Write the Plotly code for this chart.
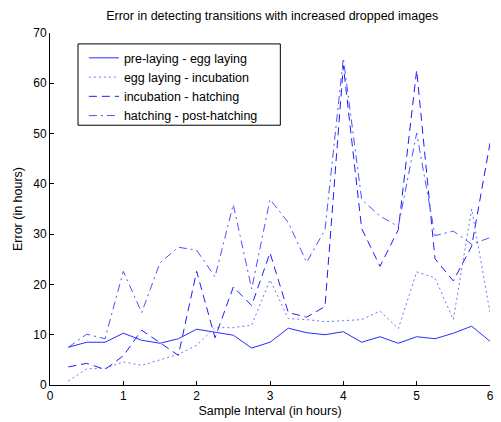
import plotly.graph_objects as go

x_hours = [0.25, 0.5, 0.75, 1.0, 1.25, 1.5, 1.75, 2.0, 2.25, 2.5, 2.75, 3.0,
           3.25, 3.5, 3.75, 4.0, 4.25, 4.5, 4.75, 5.0, 5.25, 5.5, 5.75, 6.0]

pre_laying = [7.5, 8.5, 8.5, 10.3, 8.9, 8.3, 9.2, 11.1, 10.5, 9.9, 7.35, 8.5,
              11.3, 10.4, 10.0, 10.6, 8.5, 9.6, 8.3, 9.6, 9.2, 10.3, 11.7, 8.7]
egg_laying = [0.8, 3.2, 3.3, 4.6, 3.9, 5.0, 6.1, 7.9, 11.4, 11.4, 11.9, 20.9,
              13.2, 13.0, 12.6, 12.8, 13.0, 14.7, 11.2, 22.5, 21.3, 13.0, 35.0, 14.4]
incubation = [3.6, 4.3, 3.1, 5.8, 10.9, 8.4, 5.9, 22.6, 9.4, 19.5, 15.8, 26.3,
              14.4, 13.5, 15.6, 63.5, 31.1, 23.6, 30.9, 62.6, 25.1, 20.7, 27.6, 48.1]
hatching = [7.5, 10.1, 9.2, 22.6, 14.4, 24.3, 27.4, 26.8, 21.5, 35.9, 19.1, 36.9,
            32.3, 24.4, 30.9, 65.0, 36.9, 33.6, 31.5, 50.1, 29.7, 30.6, 28.0, 29.3]

names = ["pre-laying - egg laying", "egg laying - incubation",
         "incubation - hatching", "hatching - post-hatching"]
series = [pre_laying, egg_laying, incubation, hatching]
colors = ["#2b2bff", "#7070ff", "#1c1cff", "#5050ff"]
dashes = ["solid", "2px,3px", "8px,5px", "8px,4px,2px,4px"]

fig = go.Figure()
for n, s, c, d in zip(names, series, colors, dashes):
    fig.add_trace(go.Scatter(x=x_hours, y=s, mode="lines", name=n,
                             line=dict(color=c, width=1, dash=d)))

font = "Liberation Sans, Arial, sans-serif"
axis_common = dict(showline=True, linecolor="black", linewidth=1, mirror=False,
                   ticks="inside", ticklen=4, tickcolor="black", showgrid=False,
                   zeroline=False, tickfont=dict(family=font, size=12, color="black"))
fig.update_layout(
    width=501, height=422,
    margin=dict(l=50, r=7, t=33, b=36),
    paper_bgcolor="white", plot_bgcolor="white",
    title=dict(text="Error in detecting transitions with increased dropped images",
               x=(50 + 494.5) / 2 / 501, xanchor="center", y=0.962, yanchor="middle",
               font=dict(family=font, size=12.5, color="black")),
    xaxis=dict(range=[0, 6], tickvals=[0, 1, 2, 3, 4, 5, 6],
               title=dict(text="Sample Interval (in hours)", standoff=3,
                          font=dict(family=font, size=12.5, color="black")),
               **axis_common),
    yaxis=dict(range=[0, 70], tickvals=[0, 10, 20, 30, 40, 50, 60, 70],
               title=dict(text="Error (in hours)", standoff=7,
                          font=dict(family=font, size=12.5, color="black")),
               **axis_common),
    legend=dict(x=0.077, y=0.971, xanchor="left", yanchor="top",
                bgcolor="rgba(0,0,0,0)", borderwidth=0,
                font=dict(family=font, size=12.5, color="black"),
                tracegroupgap=0, itemwidth=30),
    shapes=[dict(type="rect", xref="paper", yref="paper",
                 x0=0.0637, x1=0.5235, y0=0.738, y1=0.969,
                 line=dict(color="black", width=1), fillcolor="white",
                 layer="above")],
    showlegend=True,
)
fig.write_html("out.html")
